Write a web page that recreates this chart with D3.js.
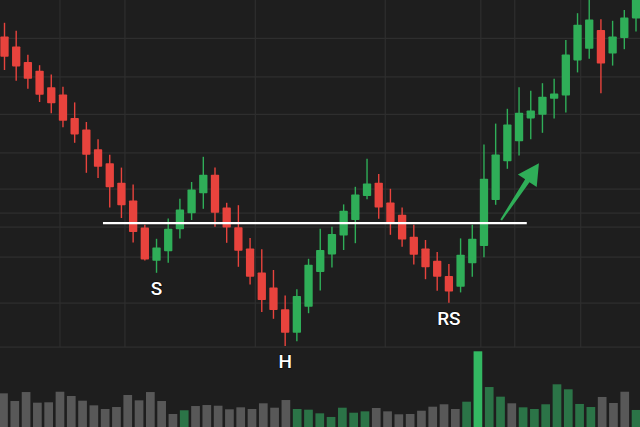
<!DOCTYPE html>
<html>
<head>
<meta charset="utf-8">
<script src="https://cdn.jsdelivr.net/npm/d3@7/dist/d3.min.js"></script>
<style>
  html, body { margin: 0; padding: 0; background: #1e1e1e; overflow: hidden; }
  svg { display: block; }
</style>
</head>
<body>
<svg id="chart" width="640" height="427"></svg>
<script>
// ---- data ----
const opens  = [140.9,138.4,134.5,132.3,128.2,126.4,120.5,117.6,112.7,109.2,104.3,99.9,93.1,84.8,87.2,92.7,96.7,101.7,106.3,98.1,93.2,87.9,81.9,78.1,72.7,66.8,73.3,82.0,86.4,91.1,95.0,101.0,104.3,99.4,96.3,90.8,87.9,84.8,81.0,78.3,84.2,88.5,100.0,109.7,114.7,120.4,121.3,125.3,126.1,134.9,137.8,142.5,136.6,140.5,145.4];
const closes = [135.8,133.4,130.3,126.3,124.2,119.8,116.4,111.3,108.3,103.2,98.7,92.0,85.1,88.1,92.8,97.6,102.6,106.3,96.8,93.1,87.3,80.8,75.0,72.5,66.8,76.0,83.8,87.5,91.5,97.3,101.4,104.1,98.1,94.3,90.1,86.3,83.2,80.8,77.1,86.3,90.3,105.3,111.4,118.9,121.8,122.4,125.8,126.6,136.4,143.8,145.1,134.1,140.9,145.6,151.0];
const highs  = [144.3,142.3,136.3,133.7,131.4,128.3,124.4,119.5,115.2,111.3,108.1,103.9,93.8,90.3,95.4,100.3,104.5,110.8,108.1,99.3,98.7,90.5,87.7,82.5,76.1,77.7,85.3,92.8,93.3,98.9,103.3,110.3,106.5,102.8,98.1,93.8,90.0,87.0,84.0,90.4,93.8,113.9,119.1,122.8,128.2,127.3,129.2,130.3,140.0,146.7,151.5,145.2,144.8,147.5,153.0];
const lows   = [132.5,129.8,127.8,124.5,121.7,118.2,114.3,106.8,105.5,98.1,95.5,89.4,84.9,81.8,84.3,90.4,95.0,97.8,93.3,89.3,83.3,78.9,72.0,70.3,63.5,64.7,71.7,77.4,83.1,87.5,89.2,100.2,95.3,91.3,88.3,83.9,80.2,77.3,74.3,76.9,80.8,85.7,98.8,107.8,111.1,115.2,116.8,120.4,121.9,131.9,135.3,126.7,133.6,137.7,142.1];

const volumes = [44.3,34.2,46.0,32.0,32.5,46.4,40.8,34.6,28.5,23.7,26.3,42.1,35.1,46.0,34.2,17.1,22.0,27.6,28.9,28.0,23.3,25.9,23.7,31.2,25.4,35.5,23.7,22.8,18.0,13.2,25.4,18.8,20.6,25.0,20.6,16.7,17.1,21.4,26.7,29.9,23.7,33.3,99.6,52.6,39.9,31.2,25.9,23.7,29.9,56.2,49.6,30.3,26.3,39.5,31.6,46.4,22.4];
// d = down/neutral, u = up, b = breakout bar
const volKinds = ['d','d','d','d','d','d','d','d','d','d','d','d','d','d','d','d','u','d','d','d','d','d','d','d','d','d','u','u','u','u','u','u','u','d','d','d','d','d','d','d','d','u','b','u','u','d','u','u','u','u','u','u','u','d','d','d','u'];

const gridPrices = [140.4,130.8,121.4,111.8,102.7,96.7,93.2,85.7,74.2,63.2];
const gridIdx = [4.74,10.3,21.45,32.56,40.73,43.63,49.27];

const necklinePrice = 94.2;
const necklineFrom = 8.42, necklineTo = 44.66;
const arrowFrom = {i: 42.47, p: 95.0};
const arrowTo = {i: 45.7, p: 109.2};

const labelIdx = [13, 24, 38];
const labelText = ['S', 'H', 'RS'];

// ---- setup ----
const W = 640, H = 427;
const svg = d3.select('#chart');
const n = opens.length;

const candles = d3.range(n).map(i => ({i, o: opens[i], c: closes[i], h: highs[i], l: lows[i]}));

const x = d3.scaleBand().domain(d3.range(n)).range([-1.35, 641.85]).paddingInner(0.29).paddingOuter(0.145);
const xLin = d3.scaleLinear().domain([0, n - 1]).range([x(0) + x.bandwidth() / 2, x(n - 1) + x.bandwidth() / 2]);
const y = d3.scaleLinear().domain([60, 150]).range([360, 0]);

const xv = d3.scaleBand().domain(d3.range(volumes.length)).range([-2.15, 641.7]).paddingInner(0.23).paddingOuter(0.115);
const yv = d3.scaleLinear().domain([0, 100]).range([427, 351]);

const RED = '#e8433d', GREEN = '#2fae58';
const volColor = {d: '#585858', u: '#2b7447', b: '#33b862'};

svg.append('rect').attr('width', W).attr('height', H).attr('fill', '#1e1e1e');

// grid (price area only)
const priceBottom = y(gridPrices[gridPrices.length - 1]);
const grid = svg.append('g').attr('stroke', '#2e2e2e').attr('stroke-width', 1.2);
grid.selectAll('line.h').data(gridPrices).join('line').attr('class', 'h')
  .attr('x1', 0).attr('x2', W).attr('y1', d => y(d)).attr('y2', d => y(d));
grid.selectAll('line.v').data(gridIdx).join('line').attr('class', 'v')
  .attr('x1', d => xLin(d)).attr('x2', d => xLin(d)).attr('y1', 0).attr('y2', priceBottom);

// volume
svg.append('g').selectAll('rect').data(volumes).join('rect')
  .attr('x', (d, i) => xv(i)).attr('width', xv.bandwidth())
  .attr('y', d => yv(d)).attr('height', d => yv(0) - yv(d))
  .attr('fill', (d, i) => volColor[volKinds[i]]);

// candles
const cg = svg.append('g').selectAll('g').data(candles).join('g');
cg.append('line')
  .attr('x1', d => x(d.i) + x.bandwidth() / 2).attr('x2', d => x(d.i) + x.bandwidth() / 2)
  .attr('y1', d => y(d.h)).attr('y2', d => y(d.l))
  .attr('stroke', d => d.c >= d.o ? GREEN : RED).attr('stroke-width', 1.4);
cg.append('rect')
  .attr('x', d => x(d.i)).attr('width', x.bandwidth())
  .attr('y', d => y(Math.max(d.o, d.c)))
  .attr('height', d => Math.max(1, Math.abs(y(d.o) - y(d.c))))
  .attr('rx', 0.8)
  .attr('fill', d => d.c >= d.o ? GREEN : RED);

// neckline
svg.append('line')
  .attr('x1', xLin(necklineFrom)).attr('x2', xLin(necklineTo))
  .attr('y1', y(necklinePrice)).attr('y2', y(necklinePrice))
  .attr('stroke', '#ffffff').attr('stroke-width', 2.2);

// arrow
(function () {
  const x0 = xLin(arrowFrom.i), y0 = y(arrowFrom.p);
  const x1 = xLin(arrowTo.i), y1 = y(arrowTo.p);
  const dx = x1 - x0, dy = y1 - y0, L = Math.hypot(dx, dy);
  const ux = dx / L, uy = dy / L, nx = -uy, ny = ux;
  const headLen = 21, headHalf = 11.3, tailHalf = 1.0, neckHalf = 2.6;
  const bx = x1 - ux * headLen, by = y1 - uy * headLen;
  const pts = [
    [x0 + nx * tailHalf, y0 + ny * tailHalf],
    [bx + nx * neckHalf, by + ny * neckHalf],
    [bx + nx * headHalf, by + ny * headHalf],
    [x1, y1],
    [bx - nx * headHalf, by - ny * headHalf],
    [bx - nx * neckHalf, by - ny * neckHalf],
    [x0 - nx * tailHalf, y0 - ny * tailHalf]
  ];
  svg.append('path').attr('d', d3.line()(pts) + 'Z').attr('fill', '#2fae58');
})();

// labels
svg.append('g').selectAll('text').data(labelIdx).join('text')
  .attr('x', d => x(d) + x.bandwidth() / 2)
  .attr('y', d => y(lows[d]) + 22)
  .attr('text-anchor', 'middle')
  .attr('font-family', 'Roboto, "Noto Sans", sans-serif')
  .attr('font-size', 19).attr('font-weight', 500)
  .attr('fill', '#ffffff')
  .style('paint-order', 'stroke').attr('stroke', 'rgba(0,0,0,0.5)').attr('stroke-width', 1.5)
  .text((d, k) => labelText[k]);
</script>
</body>
</html>
